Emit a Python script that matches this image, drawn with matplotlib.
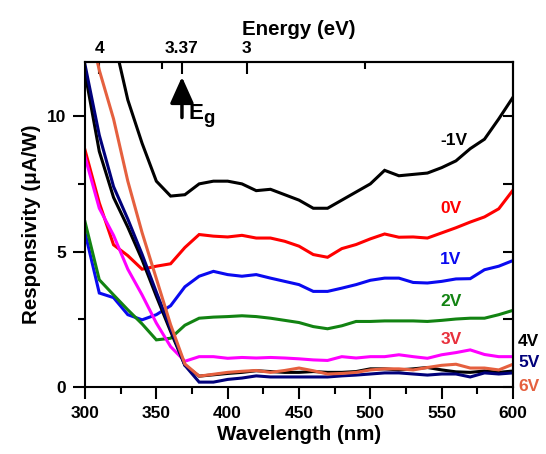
import matplotlib
matplotlib.use("Agg")
import matplotlib.pyplot as plt
from matplotlib.ticker import MultipleLocator

plt.rcParams["font.family"] = ["Liberation Sans", "DejaVu Sans"]
plt.rcParams["font.weight"] = "bold"

# wavelength grid (nm) and responsivity (uA/W) per bias
wavelength = [300, 310, 320, 330, 340, 350, 360, 370, 380, 390, 400,
              410, 420, 430, 440, 450, 460, 470, 480, 490, 500,
              510, 520, 530, 540, 550, 560, 570, 580, 590, 600]

r_m1V = [17.0, 15.0, 12.9, 10.6, 9.0, 7.6, 7.05, 7.1, 7.5, 7.6, 7.6,
         7.5, 7.25, 7.3, 7.1, 6.9, 6.6, 6.6, 6.9, 7.2, 7.5,
         8.0, 7.8, 7.85, 7.9, 8.1, 8.35, 8.8, 9.15, 9.9, 10.7]
r_0V = [8.75, 6.8, 5.25, 4.85, 4.35, 4.46, 4.55, 5.15, 5.63, 5.57, 5.54,
        5.6, 5.5, 5.5, 5.38, 5.2, 4.89, 4.79, 5.11, 5.26, 5.47,
        5.65, 5.53, 5.54, 5.5, 5.69, 5.88, 6.09, 6.28, 6.58, 7.27]
r_1V = [5.7, 3.47, 3.3, 2.67, 2.48, 2.67, 3.0, 3.7, 4.09, 4.27, 4.15,
        4.09, 4.15, 4.02, 3.9, 3.78, 3.53, 3.53, 3.65, 3.78, 3.94,
        4.02, 4.02, 3.86, 3.84, 3.9, 3.99, 4.0, 4.33, 4.46, 4.67]
r_2V = [6.1, 3.96, 3.4, 2.85, 2.33, 1.74, 1.8, 2.28, 2.54, 2.58, 2.6,
        2.63, 2.6, 2.54, 2.46, 2.38, 2.23, 2.15, 2.26, 2.42, 2.42,
        2.44, 2.44, 2.44, 2.42, 2.46, 2.51, 2.54, 2.54, 2.67, 2.83]
r_3V = [8.5, 6.6, 5.6, 4.35, 3.4, 2.36, 1.49, 0.95, 1.12, 1.12, 1.06,
        1.09, 1.07, 1.09, 1.07, 1.04, 1.0, 0.98, 1.12, 1.07, 1.12,
        1.12, 1.19, 1.12, 1.06, 1.19, 1.27, 1.37, 1.2, 1.12, 1.12]
r_4V = [11.6, 8.7, 7.0, 5.9, 4.7, 3.35, 2.05, 0.8, 0.4, 0.45, 0.5,
        0.54, 0.6, 0.57, 0.54, 0.54, 0.57, 0.54, 0.54, 0.57, 0.67,
        0.67, 0.63, 0.67, 0.72, 0.63, 0.56, 0.54, 0.59, 0.54, 0.59]
r_5V = [11.9, 9.3, 7.4, 6.2, 4.9, 3.5, 2.15, 0.8, 0.18, 0.18, 0.28,
        0.33, 0.41, 0.37, 0.37, 0.37, 0.37, 0.37, 0.41, 0.44, 0.48,
        0.52, 0.52, 0.48, 0.44, 0.48, 0.48, 0.37, 0.52, 0.48, 0.52]
r_6V = [14.0, 11.7, 9.9, 7.6, 5.7, 4.0, 2.3, 0.85, 0.4, 0.47, 0.54,
        0.58, 0.61, 0.54, 0.61, 0.7, 0.6, 0.48, 0.5, 0.54, 0.63,
        0.67, 0.67, 0.63, 0.72, 0.8, 0.84, 0.7, 0.7, 0.63, 0.84]

labels = ["-1V", "0V", "1V", "2V", "3V", "4V", "5V", "6V"]
line_colors = ["#000000", "#ff0000", "#0a0af0", "#128312",
               "#ff00ff", "#000000", "#00007a", "#e5603f"]
text_colors = ["#000000", "#ff0000", "#0a0af0", "#128312",
               "#e8303c", "#000000", "#00007a", "#e5603f"]
# where each curve label sits (wavelength, responsivity)
label_x = [549, 549, 549, 549, 549, 603.5, 603.5, 603.5]
label_y = [9.1, 6.6, 4.7, 3.15, 1.74, 1.67, 0.89, 0.0]

energy_ticks = [4, 3.37, 3]
energy_minor = [3.5, 2.5]

fig = plt.figure(figsize=(5.46, 4.54), dpi=100)
ax = fig.add_axes([0.1557, 0.1476, 0.7839, 0.7158])

series = [r_m1V, r_0V, r_1V, r_2V, r_3V, r_4V, r_5V, r_6V]
for ys, c in zip(series, line_colors):
    ax.plot(wavelength, ys, color=c, lw=2.2, solid_joinstyle="miter")

for lab, c, lx, ly in zip(labels, text_colors, label_x, label_y):
    ax.text(lx, ly, lab, color=c, fontsize=12.5, fontweight="bold",
            ha="left", va="center", clip_on=False)

ax.set_xlim(300, 600)
ax.set_ylim(0, 12)
ax.set_xticks([300, 350, 400, 450, 500, 550, 600])
ax.xaxis.set_minor_locator(MultipleLocator(25))
ax.set_yticks([0, 5, 10])
ax.yaxis.set_minor_locator(MultipleLocator(2.5))
ax.tick_params(which="both", direction="out", width=1.5, labelsize=12.5,
               top=False, right=False)
ax.tick_params(which="major", length=8.5, pad=5)
ax.tick_params(which="minor", length=5)
for s in ax.spines.values():
    s.set_linewidth(1.5)

ax.set_xlabel("Wavelength (nm)", fontsize=14.8, fontweight="bold", labelpad=3)
ax.set_ylabel("Responsivity (\u03bcA/W)", fontsize=14.8, fontweight="bold",
              labelpad=4)

# right side: inward ticks only
rax = ax.secondary_yaxis("right")
rax.set_yticks([0, 5, 10])
rax.yaxis.set_minor_locator(MultipleLocator(2.5))
rax.tick_params(which="both", direction="in", width=1.5, labelright=False)
rax.tick_params(which="major", length=7.5)
rax.tick_params(which="minor", length=7.5)
rax.spines["right"].set_linewidth(1.5)

# top axis: photon energy
tax = ax.secondary_xaxis("top", functions=(lambda w: 1240.0 / w,
                                           lambda e: 1240.0 / e))
tax.set_xticks(energy_ticks)
tax.set_xticklabels([str(e) for e in energy_ticks])
tax.set_xticks(energy_minor, minor=True)
tax.tick_params(which="both", direction="in", width=1.5, labelsize=12.5,
                pad=4)
tax.tick_params(which="major", length=8.5)
tax.tick_params(which="minor", length=5)
tax.spines["top"].set_linewidth(1.5)
tax.set_xlabel("Energy (eV)", fontsize=14.8, fontweight="bold", labelpad=5)

# band gap marker
eg_nm = 1240.0 / 3.37
ax.annotate("", xy=(eg_nm, 11.45), xytext=(eg_nm, 9.95),
            arrowprops=dict(arrowstyle="-|>,head_length=0.8,head_width=0.36",
                            lw=2.5, color="black", mutation_scale=20,
                            shrinkA=0, shrinkB=0))
ax.text(372.2, 9.89, "E", fontsize=16, fontweight="bold", va="baseline")
ax.text(382.7, 9.74, "g", fontsize=13.5, fontweight="bold", va="baseline")

fig.savefig("out.png", dpi=100)
